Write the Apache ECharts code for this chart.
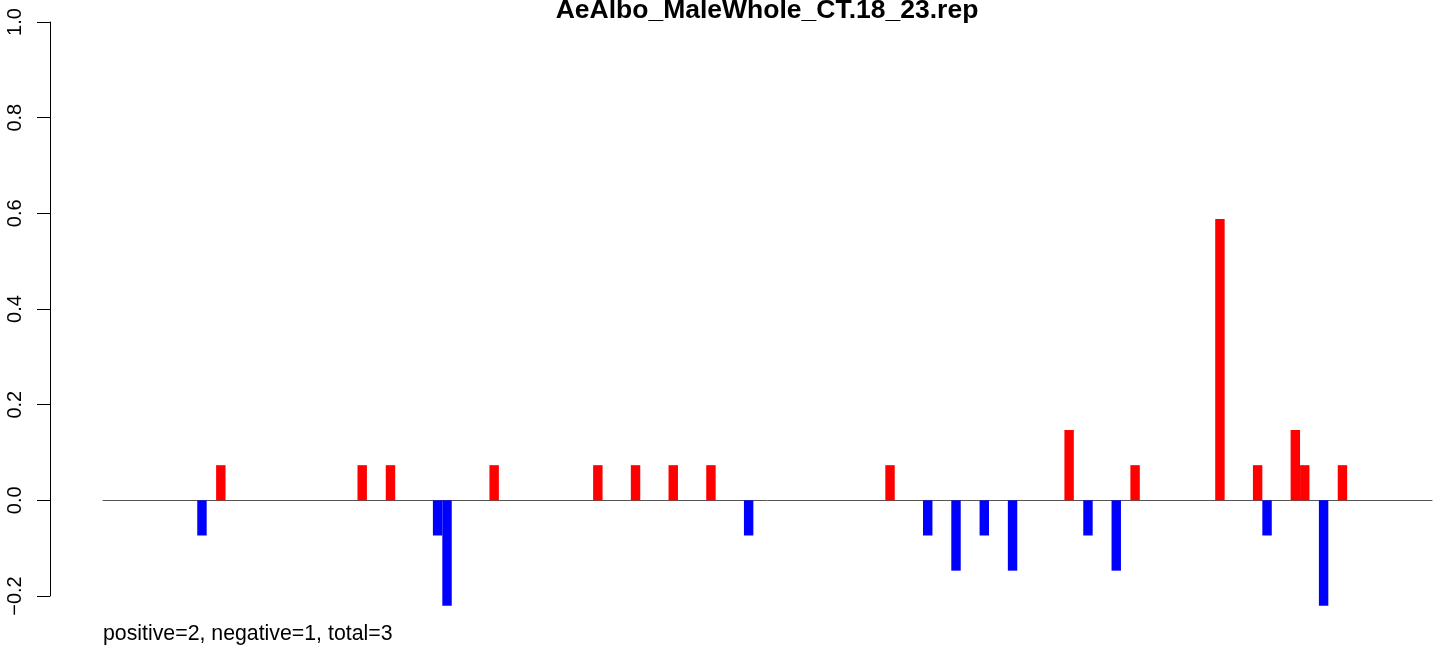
<!DOCTYPE html>
<html>
<head>
<meta charset="utf-8">
<script src="https://cdn.jsdelivr.net/npm/echarts@6/dist/echarts.min.js"></script>
<style>
  html, body { margin: 0; padding: 0; background: #fff; }
  #chart { width: 1444px; height: 652px; }
</style>
</head>
<body>
<div id="chart"></div>
<script>
// ---- data ----
const chartTitle = 'AeAlbo_MaleWhole_CT.18_23.rep';
const footnote = 'positive=2, negative=1, total=3';
const slotCount = 141;                       // number of bar positions
const yTicks = [-0.2, 0.0, 0.2, 0.4, 0.6, 0.8, 1.0];

// positive (red) bars: slot index and value
const posIndex = [12, 27, 30, 41, 52, 56, 60, 64, 83, 102, 109, 118, 122, 126, 127, 131];
const posValue = [0.0735, 0.0735, 0.0735, 0.0735, 0.0735, 0.0735, 0.0735, 0.0735, 0.0735, 0.147, 0.0735, 0.588, 0.0735, 0.147, 0.0735, 0.0735];

// negative (blue) bars: slot index and value
const negIndex = [10, 35, 36, 68, 87, 90, 93, 96, 104, 107, 123, 129];
const negValue = [-0.0735, -0.0735, -0.2205, -0.0735, -0.0735, -0.147, -0.0735, -0.147, -0.0735, -0.147, -0.0735, -0.2205];

// ---- build series arrays ----
const categories = [];
for (let i = 0; i < slotCount; i++) categories.push(String(i + 1));
const posData = new Array(slotCount).fill(null);
posIndex.forEach((k, j) => { posData[k] = posValue[j]; });
const negData = new Array(slotCount).fill(null);
negIndex.forEach((k, j) => { negData[k] = negValue[j]; });

const FONT = '"Liberation Sans", Arial, Helvetica, sans-serif';

const chart = echarts.init(document.getElementById('chart'), null, { renderer: 'canvas' });
chart.setOption({
  animation: false,
  backgroundColor: '#ffffff',
  grid: { left: 103, width: 1329, top: 22, bottom: 56, containLabel: false },
  xAxis: {
    type: 'category',
    data: categories,
    axisLine: { show: true, onZero: true, lineStyle: { color: '#555555', width: 1 } },
    axisTick: { show: false },
    axisLabel: { show: false },
    splitLine: { show: false }
  },
  yAxis: {
    type: 'value',
    min: yTicks[0],
    max: yTicks[yTicks.length - 1],
    interval: 0.2,
    offset: 53,
    axisLine: { show: true, lineStyle: { color: '#000', width: 1 } },
    axisTick: { show: true, inside: false, length: 13, lineStyle: { color: '#000', width: 1 } },
    splitLine: { show: false },
    axisLabel: {
      rotate: 90,
      margin: 25,
      color: '#000',
      fontFamily: FONT,
      fontSize: 20,
      formatter: v => v.toFixed(1).replace('-', '\u2212')
    }
  },
  series: [
    {
      type: 'bar',
      data: posData,
      barWidth: '100%',
      barGap: '-100%',
      clip: false,
      itemStyle: { color: '#ff0000' }
    },
    {
      type: 'bar',
      data: negData,
      barWidth: '100%',
      barGap: '-100%',
      clip: false,
      itemStyle: { color: '#0000ff' }
    }
  ],
  graphic: [
    {
      type: 'text',
      x: 767,
      y: 11,
      style: {
        text: chartTitle,
        fill: '#000',
        font: 'bold 26.5px ' + FONT,
        textAlign: 'center',
        textVerticalAlign: 'middle'
      }
    },
    {
      type: 'text',
      x: 103,
      y: 634,
      style: {
        text: footnote,
        fill: '#000',
        font: '21.3px ' + FONT,
        textAlign: 'left',
        textVerticalAlign: 'middle'
      }
    }
  ]
});
</script>
</body>
</html>
